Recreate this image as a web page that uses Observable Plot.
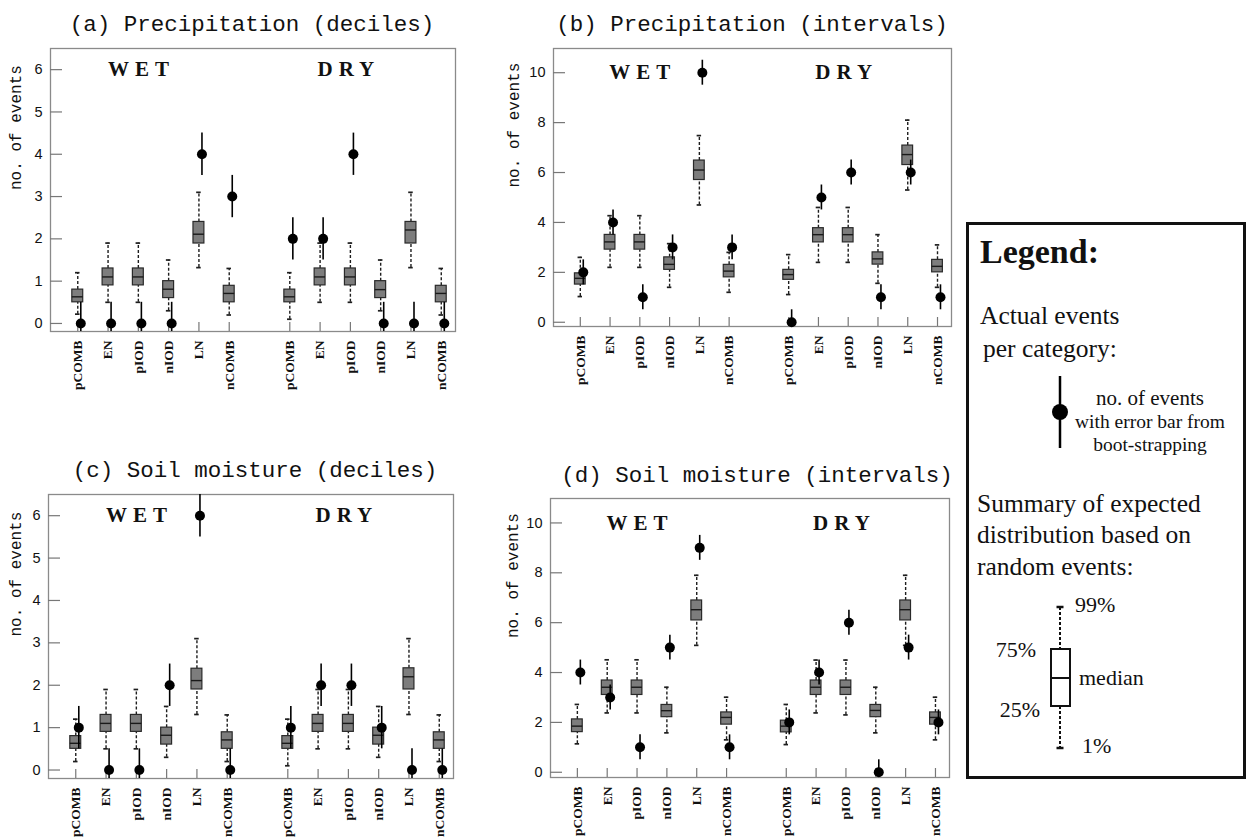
<!DOCTYPE html>
<html>
<head>
<meta charset="utf-8">
<script src="https://cdn.jsdelivr.net/npm/d3@7"></script>
<script src="https://cdn.jsdelivr.net/npm/@observablehq/plot@0.6"></script>
<style>
  body { margin: 0; background: #fff; }
  #page { position: relative; width: 1247px; height: 840px; overflow: hidden; background: #fff; }
  .panel { position: absolute; }
  #overlay { position: absolute; left: 0; top: 0; pointer-events: none; }
</style>
</head>
<body>
<div id="page"></div>
<script>
// ---------- categories & tick labels ----------
const categories = ["pCOMB", "EN", "pIOD", "nIOD", "LN", "nCOMB"];
const groupNames = ["WET", "DRY"];
const positions = [1, 2, 3, 4, 5, 6, 8, 9, 10, 11, 12, 13];
const tickLabels = [...categories, ...categories];
const groupCenters = [3.1, 9.95];
const ticksDeciles = [0, 1, 2, 3, 4, 5, 6];
const ticksIntervals = [0, 2, 4, 6, 8, 10];
const errorHalf = 0.5;   // bootstrap error bar half-length (no. of events)

// ---------- (a) Precipitation (deciles) ----------
const aLow    = [0.22, 0.5, 0.5, 0.3, 1.32, 0.2,   0.1, 0.5, 0.5, 0.3, 1.32, 0.2];
const aQ1     = [0.5, 0.9, 0.9, 0.6, 1.89, 0.5,    0.5, 0.9, 0.9, 0.6, 1.89, 0.5];
const aMed    = [0.63, 1.1, 1.1, 0.81, 2.11, 0.71, 0.63, 1.1, 1.1, 0.8, 2.21, 0.71];
const aQ3     = [0.8, 1.3, 1.3, 1.0, 2.4, 0.89,    0.8, 1.3, 1.3, 1.0, 2.4, 0.89];
const aHigh   = [1.2, 1.9, 1.9, 1.5, 3.1, 1.3,     1.2, 1.9, 1.9, 1.5, 3.1, 1.3];
const aActual = [0, 0, 0, 0, 4, 3,                 2, 2, 4, 0, 0, 0];

// ---------- (b) Precipitation (intervals) ----------
const bLow    = [1.03, 2.2, 2.2, 1.4, 4.7, 1.2,     1.11, 2.4, 2.4, 1.56, 5.3, 1.4];
const bQ1     = [1.51, 2.91, 2.91, 2.1, 5.7, 1.8,   1.7, 3.2, 3.2, 2.31, 6.3, 2.0];
const bMed    = [1.76, 3.22, 3.22, 2.32, 6.1, 2.05, 1.91, 3.51, 3.51, 2.54, 6.72, 2.24];
const bQ3     = [1.96, 3.5, 3.5, 2.6, 6.48, 2.3,    2.1, 3.77, 3.77, 2.8, 7.08, 2.5];
const bHigh   = [2.6, 4.27, 4.27, 3.15, 7.48, 2.8,  2.71, 4.6, 4.6, 3.51, 8.1, 3.1];
const bActual = [2, 4, 1, 3, 10, 3,                 0, 5, 6, 1, 6, 1];

// ---------- (c) Soil moisture (deciles) ----------
const cLow    = [0.2, 0.5, 0.5, 0.3, 1.31, 0.2,    0.1, 0.5, 0.5, 0.3, 1.31, 0.2];
const cQ1     = [0.5, 0.9, 0.9, 0.6, 1.9, 0.5,     0.5, 0.9, 0.9, 0.6, 1.9, 0.5];
const cMed    = [0.63, 1.1, 1.1, 0.82, 2.11, 0.71, 0.63, 1.1, 1.1, 0.82, 2.2, 0.71];
const cQ3     = [0.8, 1.3, 1.3, 1.0, 2.39, 0.89,   0.8, 1.3, 1.3, 1.0, 2.4, 0.89];
const cHigh   = [1.2, 1.9, 1.9, 1.5, 3.1, 1.3,     1.2, 1.9, 1.9, 1.5, 3.1, 1.3];
const cActual = [1, 0, 0, 2, 6, 0,                 1, 2, 2, 1, 0, 0];

// ---------- (d) Soil moisture (intervals) ----------
const dLow    = [1.14, 2.38, 2.38, 1.58, 5.09, 1.3,  1.11, 2.38, 2.3, 1.58, 5.09, 1.3];
const dQ1     = [1.61, 3.1, 3.1, 2.21, 6.09, 1.91,   1.6, 3.1, 3.1, 2.21, 6.09, 1.91];
const dMed    = [1.85, 3.41, 3.41, 2.47, 6.52, 2.2,  1.85, 3.41, 3.41, 2.48, 6.52, 2.2];
const dQ3     = [2.12, 3.68, 3.68, 2.7, 6.89, 2.4,   2.07, 3.68, 3.68, 2.7, 6.89, 2.4];
const dHigh   = [2.72, 4.51, 4.51, 3.41, 7.9, 3.01,  2.72, 4.5, 4.5, 3.41, 7.9, 3.01];
const dActual = [4, 3, 1, 5, 9, 1,                   2, 4, 6, 0, 5, 2];

const panelTitles = ["(a) Precipitation (deciles)", "(b) Precipitation (intervals)",
                     "(c) Soil moisture (deciles)", "(d) Soil moisture (intervals)"];
const yLabel = "no. of events";

// ---------- layout (pixels) ----------
const xDomain = [0.1, 13.47];
const panels = [
  {title: panelTitles[0], frame: [50, 48, 455, 331],  yDomain: [-0.19, 6.5],  yTicks: ticksDeciles,
   low: aLow, q1: aQ1, med: aMed, q3: aQ3, high: aHigh, actual: aActual, labelDx: -35, titleX: 252, titleY: 31},
  {title: panelTitles[1], frame: [553, 48, 951, 326], yDomain: [-0.17, 10.97], yTicks: ticksIntervals,
   low: bLow, q1: bQ1, med: bMed, q3: bQ3, high: bHigh, actual: bActual, labelDx: -40, titleX: 752, titleY: 31},
  {title: panelTitles[2], frame: [48, 494, 453, 778], yDomain: [-0.2, 6.5],   yTicks: ticksDeciles,
   low: cLow, q1: cQ1, med: cMed, q3: cQ3, high: cHigh, actual: cActual, labelDx: -33, titleX: 255, titleY: 477},
  {title: panelTitles[3], frame: [550, 498, 949, 777], yDomain: [-0.21, 10.98], yTicks: ticksIntervals,
   low: dLow, q1: dQ1, med: dMed, q3: dQ3, high: dHigh, actual: dActual, labelDx: -38, titleX: 757, titleY: 482}
];

const page = document.getElementById("page");
const labelAt = new Map(positions.map((p, i) => [p, tickLabels[i]]));
const SERIF = "'Liberation Serif', 'Times New Roman', serif";
const SANS = "'Liberation Sans', Arial, sans-serif";
const MONO = "'Liberation Mono', 'Courier New', monospace";

function drawPanel(p) {
  const rows = positions.map((pos, i) => ({
    pos, label: tickLabels[i], lo: p.low[i], q1: p.q1[i], med: p.med[i],
    q3: p.q3[i], hi: p.high[i], actual: p.actual[i]
  }));
  const groups = groupNames.map((g, i) => ({x: groupCenters[i], y: p.yTicks[p.yTicks.length - 1], text: g}));
  const [fl, ft, fr, fb] = p.frame;
  const mL = 50, mT = 5, mR = 6, mB = 66;
  const innerW = fr - fl, innerH = fb - ft;
  const xPerPx = (xDomain[1] - xDomain[0]) / innerW;
  const yPerPx = (p.yDomain[1] - p.yDomain[0]) / innerH;
  const boxHalf = 0.18, capHalf = 0.075, dotShift = 0.1;
  const dark = "#1e1e1e";

  const svg = Plot.plot({
    width: innerW + mL + mR,
    height: innerH + mT + mB,
    marginLeft: mL, marginTop: mT, marginRight: mR, marginBottom: mB,
    x: {domain: xDomain, label: null},
    y: {domain: p.yDomain, label: null},
    style: {fontFamily: SANS, fontSize: "14.5px", color: "#111", background: "transparent", overflow: "visible"},
    marks: [
      Plot.frame({stroke: "#8a8a8a", strokeWidth: 1.3}),
      // inward ticks
      Plot.ruleY(p.yTicks, {y: d => d, x1: xDomain[0], x2: xDomain[0] + 12 * xPerPx, stroke: "#777", strokeWidth: 1.2}),
      Plot.ruleX(positions, {x: d => d, y1: p.yDomain[0], y2: p.yDomain[0] + 9 * yPerPx, stroke: "#777", strokeWidth: 1.2}),
      Plot.axisY(p.yTicks, {tickSize: 0, tickPadding: 8, label: null, fontSize: 14.5, fontFamily: SANS}),
      Plot.axisX(positions, {tickSize: 0, tickPadding: 9, tickRotate: -90, label: null,
        tickFormat: d => labelAt.get(d), fontFamily: SERIF, fontWeight: "bold", fontSize: 13.5}),
      Plot.text([yLabel], {text: d => d, frameAnchor: "left", rotate: -90, dx: p.labelDx,
        fontFamily: MONO, fontSize: 16, fill: "#111"}),
      Plot.text(groups, {x: "x", y: "y", text: "text", fontFamily: SERIF,
        fontWeight: "bold", fontSize: 21, fill: "#111", lineAnchor: "middle"}),
      // whiskers (1% - 25%, 75% - 99%)
      Plot.ruleX(rows, {x: "pos", y1: "q3", y2: "hi", stroke: dark, strokeWidth: 1.4, strokeDasharray: "3,2"}),
      Plot.ruleX(rows, {x: "pos", y1: "lo", y2: "q1", stroke: dark, strokeWidth: 1.4, strokeDasharray: "3,2"}),
      Plot.ruleY(rows, {y: "hi", x1: d => d.pos - capHalf, x2: d => d.pos + capHalf, stroke: dark, strokeWidth: 1.7}),
      Plot.ruleY(rows, {y: "lo", x1: d => d.pos - capHalf, x2: d => d.pos + capHalf, stroke: dark, strokeWidth: 1.7}),
      // boxes
      Plot.rect(rows, {x1: d => d.pos - boxHalf, x2: d => d.pos + boxHalf, y1: "q1", y2: "q3",
        fill: "#7d7d7d", stroke: "#2a2a2a", strokeWidth: 1.2}),
      Plot.ruleY(rows, {y: "med", x1: d => d.pos - boxHalf, x2: d => d.pos + boxHalf, stroke: "#1a1a1a", strokeWidth: 1.4}),
      // actual events with bootstrap error bar
      Plot.ruleX(rows, {x: d => d.pos + dotShift, y1: d => d.actual - errorHalf, y2: d => d.actual + errorHalf,
        stroke: "#000", strokeWidth: 1.6, clip: true}),
      Plot.dot(rows, {x: d => d.pos + dotShift, y: "actual", r: 5, fill: "#000", stroke: "none"})
    ]
  });

  const tickLabelSet = new Set(tickLabels);
  const yTickSet = new Set(p.yTicks.map(String));
  svg.querySelectorAll("text").forEach(t => {
    const c = t.textContent;
    if (groupNames.includes(c)) {
      t.setAttribute("letter-spacing", 6);
    } else if (tickLabelSet.has(c)) {
      t.style.setProperty("font-size", "13.5px", "important");
      t.style.setProperty("font-family", SERIF, "important");
      t.style.setProperty("font-weight", "bold", "important");
    } else if (yTickSet.has(c)) {
      t.style.setProperty("font-size", "14.5px", "important");
      t.style.setProperty("font-family", SANS, "important");
    }
  });

  const div = document.createElement("div");
  div.className = "panel";
  div.style.left = (fl - mL) + "px";
  div.style.top = (ft - mT) + "px";
  div.appendChild(svg);
  page.appendChild(div);
}

panels.forEach(drawPanel);

// ---------- titles + legend overlay ----------
const NS = "http://www.w3.org/2000/svg";
const overlay = document.createElementNS(NS, "svg");
overlay.setAttribute("id", "overlay");
overlay.setAttribute("width", 1247);
overlay.setAttribute("height", 840);
page.appendChild(overlay);

function addText(txt, x, y, size, opts = {}) {
  const t = document.createElementNS(NS, "text");
  t.setAttribute("x", x);
  t.setAttribute("y", y);
  t.setAttribute("font-size", size);
  t.setAttribute("font-family", opts.family || SERIF);
  t.setAttribute("fill", "#111");
  if (opts.anchor) t.setAttribute("text-anchor", opts.anchor);
  if (opts.weight) t.setAttribute("font-weight", opts.weight);
  t.textContent = txt;
  overlay.appendChild(t);
}
function addEl(tag, attrs) {
  const e = document.createElementNS(NS, tag);
  for (const k in attrs) e.setAttribute(k, attrs[k]);
  overlay.appendChild(e);
}

panels.forEach(p => addText(p.title, p.titleX, p.titleY, 22.5, {family: MONO, anchor: "middle"}));

// legend frame
addEl("rect", {x: 967.5, y: 223.5, width: 277, height: 554, fill: "none", stroke: "#111", "stroke-width": 3});
addText("Legend:", 980, 263, 34, {weight: "bold"});
addText("Actual events", 980, 324, 25.5);
addText("per category:", 983, 357, 25.5);
// error-bar glyph
addEl("line", {x1: 1060, x2: 1060, y1: 376, y2: 448, stroke: "#000", "stroke-width": 2.5});
addEl("circle", {cx: 1060, cy: 412, r: 8, fill: "#000"});
addText("no. of events", 1150, 405, 21, {anchor: "middle"});
addText("with error bar from", 1150, 428, 19.5, {anchor: "middle"});
addText("boot-strapping", 1150, 451, 19.5, {anchor: "middle"});
addText("Summary of expected", 977, 512, 25.5);
addText("distribution based on", 977, 543, 25.5);
addText("random events:", 977, 575, 25.5);
// box glyph
addEl("line", {x1: 1060, x2: 1060, y1: 607, y2: 649, stroke: "#111", "stroke-width": 2, "stroke-dasharray": "3,2"});
addEl("line", {x1: 1060, x2: 1060, y1: 706, y2: 748, stroke: "#111", "stroke-width": 2, "stroke-dasharray": "3,2"});
addEl("line", {x1: 1056.5, x2: 1063.5, y1: 607, y2: 607, stroke: "#111", "stroke-width": 2.5});
addEl("line", {x1: 1056.5, x2: 1063.5, y1: 748, y2: 748, stroke: "#111", "stroke-width": 2.5});
addEl("rect", {x: 1051, y: 649, width: 19, height: 57, fill: "#fff", stroke: "#111", "stroke-width": 2});
addEl("line", {x1: 1051, x2: 1070, y1: 678, y2: 678, stroke: "#111", "stroke-width": 2});
addText("99%", 1075, 612, 22);
addText("75%", 1036, 657, 22, {anchor: "end"});
addText("median", 1079, 685, 22);
addText("25%", 1040, 717, 22, {anchor: "end"});
addText("1%", 1082, 753, 22);
</script>
</body>
</html>
